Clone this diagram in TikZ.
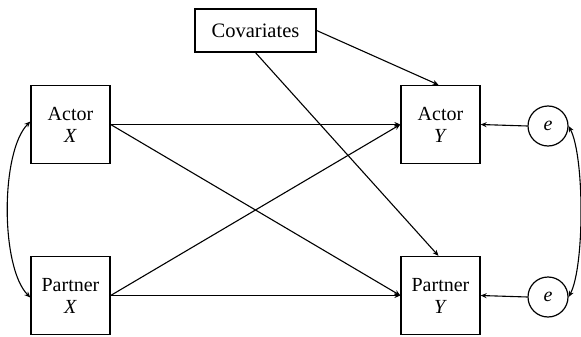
\documentclass[tikz,border=0pt]{standalone}
\usepackage{fontspec}
\setmainfont{Liberation Serif}
\usetikzlibrary{arrows.meta}
\begin{document}
\begin{tikzpicture}[x=1pt,y=-1pt,
  box/.style={draw,line width=1.3pt,minimum width=79pt,minimum height=78pt,inner sep=0pt,align=center,font=\fontsize{20}{22}\selectfont},
  covbox/.style={draw,line width=1.3pt,minimum width=121pt,minimum height=43pt,inner sep=0pt,font=\fontsize{20.5}{22}\selectfont},
  err/.style={draw,circle,line width=1.2pt,minimum size=40pt,inner sep=0pt,font=\fontsize{20}{22}\selectfont\itshape},
  arr/.style={line width=1.1pt,-{Stealth[length=6pt,width=5pt]}},
  darr/.style={line width=1.1pt,{Stealth[length=6pt,width=5pt]}-{Stealth[length=6pt,width=5pt]}}]
\useasboundingbox (0,0) rectangle (581,337);
\node[box] (ax) at (70.5,124.5) {Actor\\\textit{X}};
\node[box] (px) at (70.5,295.5) {Partner\\\textit{X}};
\node[box] (ay) at (440.5,124.5) {Actor\\\textit{Y}};
\node[box] (py) at (440.5,295.5) {Partner\\\textit{Y}};
\node[covbox] (cov) at (255.5,30.5) {Covariates};
\node[err] (e1) at (548,126) {e};
\node[err] (e2) at (548,297) {e};
\draw[arr] (ax.east) -- (ay.west);
\draw[arr] (ax.east) -- (py.west);
\draw[arr] (px.east) -- (ay.west);
\draw[arr] (px.east) -- (py.west);
\draw[arr] (cov.east) -- ([xshift=-2pt]ay.north);
\draw[arr] (cov.south) -- ([xshift=-2pt]py.north);
\draw[arr] (e1.west) -- (ay.east);
\draw[arr] (e2.west) -- (py.east);
\draw[darr] ([yshift=3pt]ax.west) .. controls +(-30,30) and +(-30,-30) .. ([yshift=-2pt]px.west);
\draw[darr] (e1.east) .. controls +(16,30) and +(16,-30) .. (e2.east);
\end{tikzpicture}
\end{document}
